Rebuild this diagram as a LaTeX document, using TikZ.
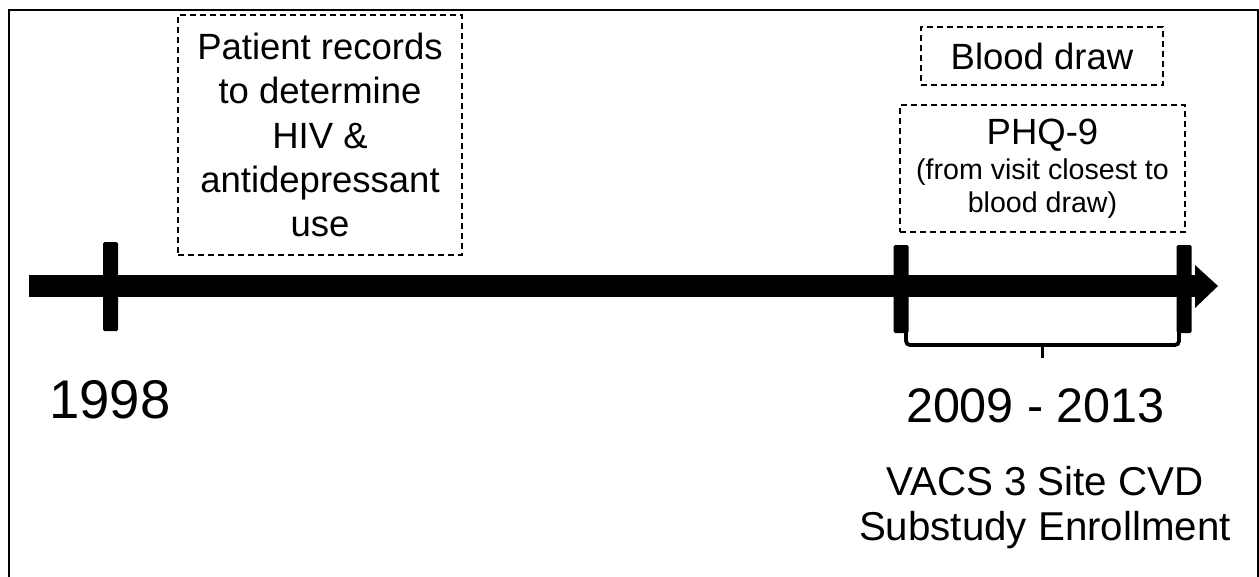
\documentclass[tikz,border=0pt]{standalone}
\usepackage{fontspec}
\setmainfont{Liberation Sans}
\begin{document}
\begin{tikzpicture}[x=1pt,y=-1pt,
  frame/.style={line width=2pt},
  dashbox/.style={draw, dash pattern=on 6pt off 4pt, line width=1.4pt,
    align=center, inner sep=0pt},
  tickmark/.style={fill=black, rounded corners=1.5pt, minimum width=15pt,
    inner sep=0pt},
  bracket/.style={line width=3.8pt, rounded corners=4pt},
  label/.style={inner sep=0pt, align=center}]
\useasboundingbox (0,0) rectangle (1259,576);
\clip (0,0) rectangle (1259,576);

% outer frame (open at the bottom)
\draw[frame] (9,590) -- (9,10) -- (1258,10) -- (1258,590);

% timeline bar with arrow head
\coordinate (barL) at (29,286);
\coordinate (barR) at (1196,286);
\draw[line width=22pt] (barL) -- (barR);
\fill (1195,265) -- (1218,286) -- (1195,308) -- cycle;

% tick marks
\node[tickmark, minimum height=89pt] (t98) at (110.5,286.5) {};
\node[tickmark, minimum height=88pt] (t09) at (901,289) {};
\node[tickmark, minimum height=88pt] (t13) at (1184,289) {};

% bracket spanning 2009--2013
\coordinate (bl) at (906,330);
\coordinate (br) at (1179,330);
\coordinate (bm) at (1042.5,345);
\draw[bracket] (bl) -- (906,345) -- (1179,345) -- (br);
\draw[line width=3.8pt] (bm) -- (1042.5,358);

% year labels
\node[label, font=\fontsize{54.5}{60}\selectfont, anchor=base] (y98) at (110,418) {1998};
\node[label, font=\fontsize{48.5}{54}\selectfont, anchor=base] (y0913) at (1035.5,422) {2009 - 2013};
\node[label, font=\fontsize{40.3}{45}\selectfont] (vacs) at (1045,507.5)
  {VACS 3 Site CVD\\Substudy Enrollment};

% dashed information boxes
\node[dashbox, minimum width=284pt, minimum height=240pt,
  font=\fontsize{36.5}{44.3}\selectfont] (records) at (320,135)
  {Patient records\\to determine\\HIV \&\\antidepressant\\use};
\node[dashbox, minimum width=242pt, minimum height=58pt,
  font=\fontsize{36.5}{44}\selectfont] (blood) at (1042,56) {Blood draw};
\node[dashbox, minimum width=285pt, minimum height=127pt,
  font=\fontsize{28.6}{33}\selectfont] (phq) at (1042.5,168.5)
  {{\fontsize{36.5}{40}\selectfont PHQ-9}\\[2pt](from visit closest to\\blood draw)};
\end{tikzpicture}
\end{document}
